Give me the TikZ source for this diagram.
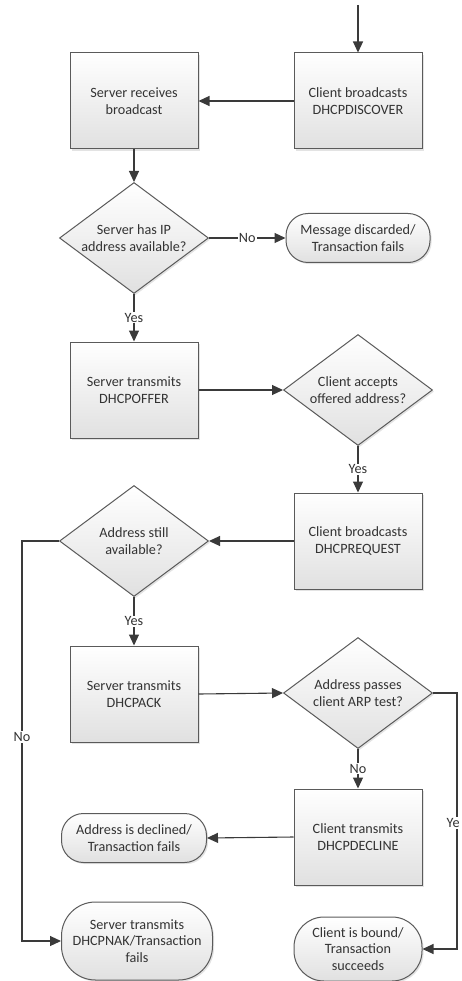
\documentclass[tikz,border=0pt]{standalone}
\usepackage{fontspec}
\setmainfont{Carlito}
\usetikzlibrary{shapes.geometric,shadows,arrows.meta}
\definecolor{ink}{HTML}{3A3A3A}
\definecolor{edge}{HTML}{5A5A5A}
\definecolor{txt}{HTML}{333333}
\begin{document}
\begin{tikzpicture}[x=1pt,y=-1pt,
  font=\fontsize{14.2}{16.8}\selectfont,
  every node/.style={text=txt},
  shape base/.style={draw=edge, line width=1pt, top color=white, bottom color=black!12,
    drop shadow={opacity=0.22, shadow xshift=1.6pt, shadow yshift=-1.6pt}},
  procbox/.style={shape base, rectangle, minimum width=128pt, minimum height=96pt,
    align=center, inner sep=2pt},
  endcap/.style={shape base, rectangle, rounded corners=22pt, align=center, inner sep=2pt},
  decision/.style={shape base, diamond, inner sep=0pt, minimum width=149pt, minimum height=111pt,
    label={[align=center, text=txt]center:#1}},
  flow/.style={draw=ink, line width=1.1pt, -{Triangle[length=11pt,width=10pt]}},
  tag/.style={fill=white, inner sep=1pt, text=txt}
]
\useasboundingbox (0,0) rectangle (461,981);
\clip (0,0) rectangle (461,981);

% process boxes
\node[procbox] (cdisc)  at (358,101) {Client broadcasts\\DHCPDISCOVER};
\node[procbox] (srecv)  at (134,101) {Server receives\\broadcast};
\node[procbox] (soffer) at (134,390) {Server transmits\\DHCPOFFER};
\node[procbox] (creq)   at (358,541) {Client broadcasts\\DHCPREQUEST};
\node[procbox] (sack)   at (134,694) {Server transmits\\DHCPACK};
\node[procbox] (cdecl)  at (358,837) {Client transmits\\DHCPDECLINE};

% decisions
\node[decision={Server has IP\\address available?}] (dip) at (134,238) {};
\node[decision={Client accepts\\offered address?}] (dacc) at (358,390) {};
\node[decision={Address still\\available?}] (davail) at (134,541) {};
\node[decision={Address passes\\client ARP test?}] (darp) at (358,693) {};

% terminals
\node[endcap, minimum width=144pt, minimum height=49pt] (mdisc) at (358,238)
  {Message discarded/\\Transaction fails};
\node[endcap, minimum width=145pt, minimum height=49pt] (declined) at (134,838)
  {Address is declined/\\Transaction fails};
\node[endcap, rounded corners=34pt, minimum width=151pt, minimum height=78pt] (nak) at (137,941)
  {Server transmits\\DHCPNAK/Transaction\\fails};
\node[endcap, rounded corners=30pt, minimum width=128pt, minimum height=64pt] (bound) at (358,949)
  {Client is bound/\\Transaction\\succeeds};

% connectors
\coordinate (start) at (358,5);
\draw[flow] (start) -- (cdisc.north);
\draw[flow] (cdisc.west) -- (srecv.east);
\draw[flow] (srecv.south) -- (dip.north);
\draw[flow] (dip.east) -- node[tag] {No} (mdisc.west);
\draw[flow] (dip.south) -- node[tag] {Yes} (soffer.north);
\draw[flow] (soffer.east) -- (dacc.west);
\draw[flow] (dacc.south) -- node[tag] {Yes} (creq.north);
\draw[flow] (creq.west) -- (davail.east);
\draw[flow] (davail.south) -- node[tag] {Yes} (sack.north);
\draw[flow] (sack.east) -- (darp.west);
\draw[flow] (darp.south) -- node[tag] {No} (cdecl.north);
\draw[flow] (cdecl.west) -- (declined.east);

\coordinate (leftrail) at (22,541);
\coordinate (leftfoot) at (22,941);
\draw[flow] (davail.west) -- (leftrail) -- node[tag, pos=0.49] {No} (leftfoot) -- (nak.west);

\coordinate (rightrail) at (457,693);
\coordinate (rightfoot) at (457,949);
\draw[flow] (darp.east) -- (rightrail) -- (rightfoot) -- (bound.east);
\node[tag, anchor=west, inner xsep=0.5pt] (yesright) at (446,823) {Ye};
\end{tikzpicture}
\end{document}
